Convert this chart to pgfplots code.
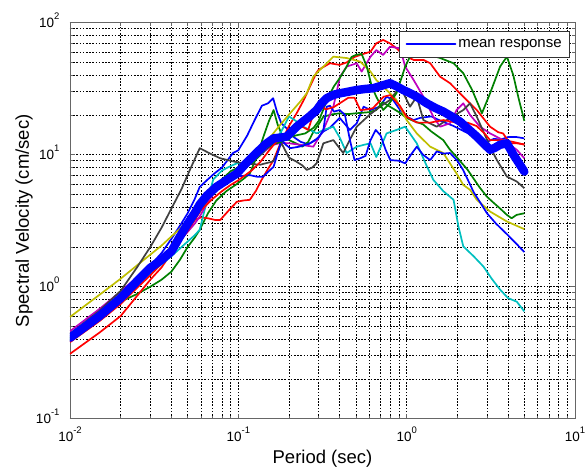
\documentclass[border=0pt]{standalone}
\usepackage{fontspec}
\setmainfont{Liberation Sans}
\usepackage{pgfplots}
\pgfplotsset{compat=1.18}
\definecolor{mb}{rgb}{0,0,1}
\definecolor{mg}{rgb}{0,0.5,0}
\definecolor{mr}{rgb}{1,0,0}
\definecolor{mc}{rgb}{0,0.75,0.75}
\definecolor{mm}{rgb}{0.75,0,0.75}
\definecolor{my}{rgb}{0.75,0.75,0}
\definecolor{mk}{rgb}{0.25,0.25,0.25}
\newcommand\tenpow[1]{10\raisebox{0.6em}{\fontsize{9.5}{10}\selectfont #1}}
\tikzset{thinline/.style={line width=1.7pt, line join=round}}
\begin{document}
\begin{tikzpicture}
\begin{axis}[
  xmode=log, ymode=log,
  scale only axis, width=505pt, height=396pt,
  xmin=0.01, xmax=10, ymin=0.1, ymax=100,
  xtick={0.01,0.1,1,10}, xticklabels={{\tenpow{-2}},{\tenpow{-1}},{\tenpow{0}},{\tenpow{1}}},
  ytick={0.1,1,10,100}, yticklabels={{\tenpow{-1}},{\tenpow{0}},{\tenpow{1}},{\tenpow{2}}},
  minor xtick={0.02,0.03,0.04,0.05,0.06,0.07,0.08,0.09,0.2,0.3,0.4,0.5,0.6,0.7,0.8,0.9,2,3,4,5,6,7,8,9},
  minor ytick={0.2,0.3,0.4,0.5,0.6,0.7,0.8,0.9,2,3,4,5,6,7,8,9,20,30,40,50,60,70,80,90},
  grid=both,
  major grid style={black, line width=0.55pt, dash pattern=on 1.6pt off 1.6pt},
  minor grid style={black, line width=0.55pt, dash pattern=on 1.6pt off 1.6pt},
  tick align=inside, major tick length=5pt, minor tick length=3pt,
  every tick/.style={black!60, line width=0.6pt},
  axis line style={black!60, line width=0.8pt},
  tick label style={font=\fontsize{13.5}{15}\selectfont},
  xticklabel style={inner xsep=0pt, yshift=-4.9pt},
  yticklabel style={xshift=-7pt, yshift=2.6pt},
  xlabel={Period (sec)}, ylabel={Spectral Velocity (cm/sec)},
  label style={font=\fontsize{18.5}{21}\selectfont},
  xlabel style={at={(axis description cs:0.5,-0.101)}, anchor=center},
  ylabel style={at={(axis description cs:-0.0911,0.5)}, anchor=center},
  legend style={at={(axis description cs:0.990,0.980)}, anchor=north east,
    draw=black!80, line width=0.6pt, fill=white,
    font=\fontsize{15}{17}\selectfont, inner xsep=6pt, inner ysep=6.5pt,
    nodes={inner sep=2pt}},
  legend cell align=left,
]
% blue 1
\addplot[mb, thinline, forget plot] coordinates {(0.01,0.42) (0.015,0.62) (0.02,0.86) (0.025,1.15) (0.03,1.45) (0.035,1.8) (0.04,2.3) (0.045,2.9) (0.05,3.6) (0.055,4.6) (0.059,5.7) (0.065,6.4) (0.072,7.2) (0.08,8.0) (0.093,10.3) (0.1,10.8) (0.113,14) (0.125,18.3) (0.138,23.5) (0.15,24.5) (0.161,26.8) (0.17,21) (0.18,17.3) (0.198,15.4) (0.215,13.5) (0.235,12.5) (0.26,12) (0.29,13) (0.32,15) (0.35,16) (0.4,19) (0.46,15.4) (0.505,17.3) (0.555,23.1) (0.61,21.8) (0.69,23.1) (0.76,27.5) (0.83,26) (0.914,21.8) (1.0,19.4) (1.1,18.3) (1.2,19) (1.4,19.5) (1.6,18) (1.9,16.5) (2.2,15) (2.6,13.5) (3.0,12.5) (3.3,13.2) (3.6,13) (4.0,13.6) (4.5,13.6) (5,13.3)};
% green 1
\addplot[mg, thinline, forget plot] coordinates {(0.01,0.39) (0.015,0.56) (0.02,0.77) (0.025,0.88) (0.03,1.0) (0.035,1.13) (0.04,1.3) (0.045,1.6) (0.05,2.0) (0.055,2.35) (0.059,2.7) (0.066,3.6) (0.074,4.5) (0.085,5.3) (0.098,6.0) (0.108,6.6) (0.117,7.2) (0.13,10) (0.141,13.7) (0.152,18) (0.162,21.8) (0.171,17) (0.18,14.5) (0.2,12.9) (0.22,12.2) (0.24,11.5) (0.26,12.5) (0.28,15) (0.3,17) (0.32,19.4) (0.36,20.2) (0.4,20.6) (0.45,20.3) (0.5,20.6) (0.6,21) (0.66,21.8) (0.72,25) (0.8,23) (0.9,21) (1.0,19) (1.1,18) (1.25,17) (1.4,15) (1.65,12.9) (1.8,11) (1.98,9.6) (2.3,7.7) (2.7,5.7) (3.0,4.8) (3.3,4.3) (3.6,3.9) (3.94,3.5) (4.2,3.3) (4.5,3.5) (5,3.6)};
% red 1
\addplot[mr, thinline, forget plot] coordinates {(0.01,0.31) (0.015,0.45) (0.02,0.6) (0.025,0.85) (0.03,1.13) (0.035,1.4) (0.04,1.8) (0.045,2.2) (0.05,2.7) (0.055,3.2) (0.06,3.35) (0.066,3.3) (0.073,3.2) (0.078,3.2) (0.088,3.8) (0.098,4.4) (0.107,4.5) (0.117,4.55) (0.127,5.3) (0.137,6.4) (0.15,7.8) (0.162,9.1) (0.172,11) (0.18,12.5) (0.2,16.5) (0.222,20.6) (0.245,26) (0.267,33) (0.29,41.4) (0.3,44) (0.35,49.3) (0.4,47.9) (0.44,50) (0.49,55) (0.53,57) (0.61,60.3) (0.66,69.8) (0.725,74) (0.796,69.8) (0.87,64) (0.955,57) (1.1,52.2) (1.26,52.2) (1.38,49.3) (1.58,39) (1.81,34.8) (2.17,27.5) (2.61,21.8) (3.13,16.3) (3.5,14.8) (3.74,14.5) (4.1,12.2) (4.5,12.2) (5,12)};
% cyan
\addplot[mc, thinline, forget plot] coordinates {(0.01,0.4) (0.015,0.58) (0.02,0.79) (0.025,1.02) (0.03,1.25) (0.035,1.48) (0.04,1.7) (0.045,1.95) (0.05,2.2) (0.055,2.45) (0.059,2.7) (0.063,3.8) (0.067,5.0) (0.071,6.5) (0.08,7.6) (0.09,8.2) (0.098,8.6) (0.117,8.6) (0.13,9.5) (0.154,11.5) (0.18,15) (0.2,19.5) (0.22,18) (0.242,16.3) (0.267,15.4) (0.292,14.5) (0.32,15.4) (0.367,16.3) (0.4,13.5) (0.44,10.3) (0.505,11.5) (0.56,11.9) (0.61,12.2) (0.66,9.6) (0.76,14.5) (0.87,15.4) (0.98,16.3) (1.148,12.2) (1.3,8.5) (1.44,6.45) (1.65,5.3) (1.9,4.55) (2.03,2.86) (2.17,2.02) (2.5,1.7) (2.86,1.42) (3.2,1.15) (3.59,0.95) (4.0,0.82) (4.51,0.77) (5,0.65)};
% magenta
\addplot[mm, thinline, forget plot] coordinates {(0.01,0.46) (0.015,0.68) (0.02,0.92) (0.025,1.18) (0.03,1.45) (0.035,1.68) (0.04,1.9) (0.045,2.25) (0.05,2.6) (0.055,3.0) (0.059,3.4) (0.066,4.4) (0.074,5.4) (0.09,6.5) (0.11,8) (0.13,9.5) (0.145,10.8) (0.162,11.9) (0.18,12.3) (0.2,12.2) (0.233,11.9) (0.279,11.5) (0.32,15.4) (0.367,23.1) (0.402,39) (0.44,46.5) (0.505,49.3) (0.54,42.6) (0.61,55.3) (0.66,62) (0.725,57) (0.796,65.8) (0.914,64) (0.98,46.5) (1.1,36.8) (1.257,27.5) (1.44,19.4) (1.58,16.3) (1.81,17.3) (1.98,21.8) (2.17,24.5) (2.38,20) (2.73,16.3) (3.13,14.5) (3.74,12.9) (4.51,10.9) (5,9.4)};
% yellow
\addplot[my, thinline, forget plot] coordinates {(0.01,0.59) (0.015,0.87) (0.02,1.15) (0.025,1.45) (0.03,1.75) (0.035,2.05) (0.04,2.4) (0.045,2.75) (0.05,3.2) (0.06,4.2) (0.07,5.2) (0.08,6.1) (0.09,6.8) (0.1,7.5) (0.117,8.6) (0.133,10.5) (0.15,12.9) (0.175,16.5) (0.203,20.6) (0.233,25.2) (0.255,29.2) (0.279,39) (0.3,43) (0.32,46.5) (0.367,55.3) (0.44,54) (0.53,50.7) (0.61,42.6) (0.66,36.8) (0.76,30.9) (0.87,26) (1.0,18.3) (1.148,14.5) (1.38,11.5) (1.65,10.3) (1.98,7.2) (2.17,5.9) (2.38,5.42) (2.61,4.55) (3.13,3.71) (3.94,3.12) (5,2.73)};
% gray
\addplot[mk, thinline, forget plot] coordinates {(0.01,0.44) (0.015,0.66) (0.02,0.93) (0.025,1.4) (0.03,2.0) (0.035,2.8) (0.04,3.9) (0.046,5.5) (0.0516,7.7) (0.059,11.2) (0.068,10.2) (0.078,9.4) (0.093,8.9) (0.107,8.6) (0.12,8.5) (0.135,8.4) (0.161,8.9) (0.172,10.5) (0.18,12.3) (0.2,9.5) (0.22,8.9) (0.24,8.3) (0.255,7.67) (0.275,8.0) (0.292,8.62) (0.32,12.2) (0.367,12.9) (0.42,10.3) (0.46,13) (0.505,16.3) (0.6,20) (0.695,23.1) (0.796,26) (0.914,32.8) (1.047,23.1) (1.148,27.5) (1.257,18.3) (1.51,16.3) (1.73,18.3) (2.17,21.8) (2.38,24.5) (2.61,19.4) (3.13,11.5) (3.43,9.14) (3.94,6.83) (4.51,6.26) (5,5.58)};
% blue 2
\addplot[mb, thinline, forget plot] coordinates {(0.01,0.39) (0.015,0.57) (0.02,0.78) (0.025,1.05) (0.03,1.32) (0.035,1.55) (0.04,1.75) (0.045,2.2) (0.05,2.7) (0.055,3.3) (0.06,3.9) (0.065,4.6) (0.07,5.3) (0.076,5.8) (0.085,6.3) (0.093,6.8) (0.105,6.9) (0.117,7.0) (0.13,6.8) (0.14,6.8) (0.15,7.4) (0.162,8.1) (0.172,10.5) (0.18,12.9) (0.19,12) (0.203,11.2) (0.23,11.5) (0.267,12.2) (0.3,13.5) (0.32,15.4) (0.335,23.1) (0.35,23.5) (0.37,21.2) (0.4,21.8) (0.43,20) (0.46,13) (0.49,9.1) (0.53,9.4) (0.57,9.8) (0.61,12.9) (0.655,15.4) (0.7,14) (0.75,10.9) (0.8,9.1) (0.9,9.0) (0.98,8.6) (1.06,10) (1.148,11.5) (1.25,10) (1.38,9.1) (1.51,10.6) (1.65,10.2) (1.81,10.3) (2.0,9) (2.16,7.7) (2.33,6.3) (2.5,5.2) (2.75,4.3) (3.0,3.6) (3.4,3.0) (3.94,2.5) (4.51,2.1) (5,1.83)};
% green 2
\addplot[mg, thinline, forget plot] coordinates {(0.01,0.41) (0.015,0.6) (0.02,0.8) (0.025,1.05) (0.03,1.3) (0.035,1.55) (0.04,1.8) (0.045,2.3) (0.05,2.8) (0.055,3.3) (0.06,3.8) (0.065,4.5) (0.07,5.3) (0.08,6.5) (0.09,7.5) (0.1,8) (0.11,8.3) (0.12,8.6) (0.13,9.5) (0.145,11) (0.16,12) (0.18,12.5) (0.2,13.5) (0.22,14) (0.25,14.5) (0.28,16) (0.3,18) (0.32,22) (0.34,27) (0.37,33) (0.4,38) (0.44,46.5) (0.47,55) (0.5,57) (0.54,58) (0.58,46.5) (0.62,33) (0.66,27.5) (0.725,21.8) (0.78,24) (0.87,29.2) (0.98,46.5) (1.047,55.3) (1.15,58.6) (1.38,57) (1.58,54) (1.9,49.3) (2.17,41.4) (2.45,30.9) (2.8,20.6) (3.13,29.2) (3.59,46.5) (3.94,55.3) (4.3,40) (4.6,27.5) (5,18)};
% red 2
\addplot[mr, thinline, forget plot] coordinates {(0.01,0.38) (0.015,0.55) (0.02,0.74) (0.025,0.98) (0.03,1.22) (0.035,1.5) (0.04,1.75) (0.045,2.2) (0.05,2.65) (0.055,3.2) (0.06,3.8) (0.07,4.6) (0.08,5.3) (0.09,5.9) (0.1,6.4) (0.11,7.0) (0.12,7.6) (0.135,8.8) (0.15,10.5) (0.165,12.2) (0.18,13.3) (0.2,15) (0.22,16) (0.24,16.3) (0.26,15.4) (0.28,20.6) (0.3,25.2) (0.33,22) (0.37,23) (0.41,25) (0.45,27) (0.49,27) (0.53,21.8) (0.58,22) (0.63,22.5) (0.73,27.5) (0.8,28.3) (0.91,23.5) (1.0,19.4) (1.15,17.5) (1.38,17.5) (1.65,18.3) (1.98,17.5) (2.3,17.5) (2.6,16.5) (2.9,14.5) (3.13,12.9) (3.74,12.9) (4.3,12.5) (5,11.9)};
% mean
\addplot[mb, line width=8.5pt, line join=round, line cap=round,
  legend image code/.code={\draw[mb, line width=1.6pt] (0pt,0pt) -- (49pt,0pt);}]
  coordinates {(0.01,0.41) (0.015,0.6) (0.02,0.82) (0.025,1.1) (0.03,1.39) (0.035,1.6) (0.04,1.85) (0.045,2.4) (0.05,3.0) (0.055,3.6) (0.059,4.2) (0.065,4.9) (0.074,5.7) (0.085,6.4) (0.098,7.2) (0.11,8.5) (0.128,10.3) (0.145,12) (0.162,13.3) (0.18,13.5) (0.194,13.7) (0.208,15) (0.222,16.3) (0.242,17.8) (0.265,19.5) (0.292,21.8) (0.312,24.5) (0.335,26.8) (0.37,28.5) (0.402,29.2) (0.45,30) (0.505,30.9) (0.57,31.5) (0.634,31.9) (0.72,33.5) (0.796,34.8) (0.87,33) (0.955,30.9) (1.05,29.2) (1.148,27.5) (1.316,24.5) (1.48,22.6) (1.652,21.2) (1.85,19.5) (2.076,17.8) (2.33,15.6) (2.61,13.7) (2.86,12.2) (3.13,10.9) (3.35,11.3) (3.59,11.9) (3.94,12.2) (4.31,10) (4.65,8.6) (5,7.45)};
\addlegendentry{mean response}
\end{axis}
\path ([xshift=-70pt,yshift=-51pt]current axis.south west) rectangle ([xshift=13pt,yshift=22.7pt]current axis.north east);
\end{tikzpicture}
\end{document}
